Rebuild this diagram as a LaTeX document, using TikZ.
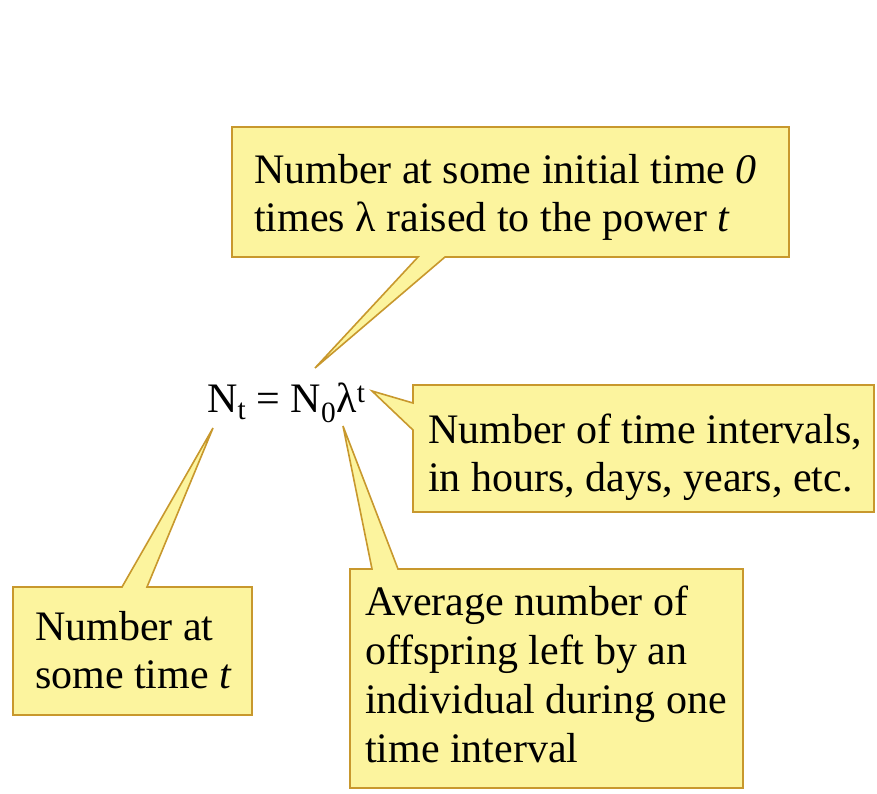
\documentclass[tikz,border=0pt]{standalone}
\usepackage{fontspec}
\setmainfont{Liberation Serif}
\usetikzlibrary{calc}
\definecolor{boxfill}{RGB}{252,244,158}
\definecolor{boxline}{RGB}{200,152,45}
\begin{document}
\begin{tikzpicture}[x=1pt,y=-1pt,
  callout/.style={fill=boxfill,draw=boxline,line width=1.6pt,line join=miter},
  boxarea/.style={draw=none,inner sep=0pt,outer sep=0pt,minimum width=#1},
  txt/.style={anchor=north west,inner sep=0pt,outer sep=0pt,align=left,text=black,
    font=\fontsize{42}{48}\selectfont},
  eqstyle/.style={anchor=base west,inner sep=0pt,text=black,font=\fontsize{42}{48}\selectfont}]
\useasboundingbox[fill=white] (0,0) rectangle (877,793);

% equation
\node[eqstyle] (eq) at (207,412) {N\textsubscript{t} = N\textsubscript{0}λ\textsuperscript{t}};

% box areas
\node[boxarea=557pt,minimum height=130pt] (topbox) at (510.5,192) {};
\node[boxarea=461pt,minimum height=127pt] (rightbox) at (643.5,448.5) {};
\node[boxarea=239pt,minimum height=128pt] (leftbox) at (132.5,651) {};
\node[boxarea=393pt,minimum height=219pt] (midbox) at (546.5,678.5) {};

% tail tips
\coordinate (tipTop) at (315,368);
\coordinate (tipRight) at (372,391);
\coordinate (tipLeft) at (213,428);
\coordinate (tipMid) at (343,426);

% callout outlines
\path[callout] (topbox.north west) -- (topbox.north east) -- (topbox.south east)
  -- ($(topbox.south west)+(213,0)$) -- (tipTop) -- ($(topbox.south west)+(186,0)$)
  -- (topbox.south west) -- cycle;
\path[callout] (rightbox.north west) -- (rightbox.north east) -- (rightbox.south east)
  -- (rightbox.south west) -- ($(rightbox.north west)+(0,45)$) -- (tipRight)
  -- ($(rightbox.north west)+(0,18)$) -- cycle;
\path[callout] (leftbox.north west) -- ($(leftbox.north west)+(109,0)$) -- (tipLeft)
  -- ($(leftbox.north west)+(134,0)$) -- (leftbox.north east) -- (leftbox.south east)
  -- (leftbox.south west) -- cycle;
\path[callout] (midbox.north west) -- ($(midbox.north west)+(22,0)$) -- (tipMid)
  -- ($(midbox.north west)+(48,0)$) -- (midbox.north east) -- (midbox.south east)
  -- (midbox.south west) -- cycle;

% texts
\node[txt] (toptext) at (254,154) {Number at some initial time \textit{0}\\times λ raised to the power \textit{t}};
\node[txt] (righttext) at (428,414) {Number of time intervals,\\in hours, days, years, etc.};
\node[txt] (lefttext) at (35,611) {Number at\\some time \textit{t}};
\node[txt,font=\fontsize{42}{49}\selectfont] (midtext) at (365,586) {Average number of\\offspring left by an\\individual during one\\time interval};
\end{tikzpicture}
\end{document}
